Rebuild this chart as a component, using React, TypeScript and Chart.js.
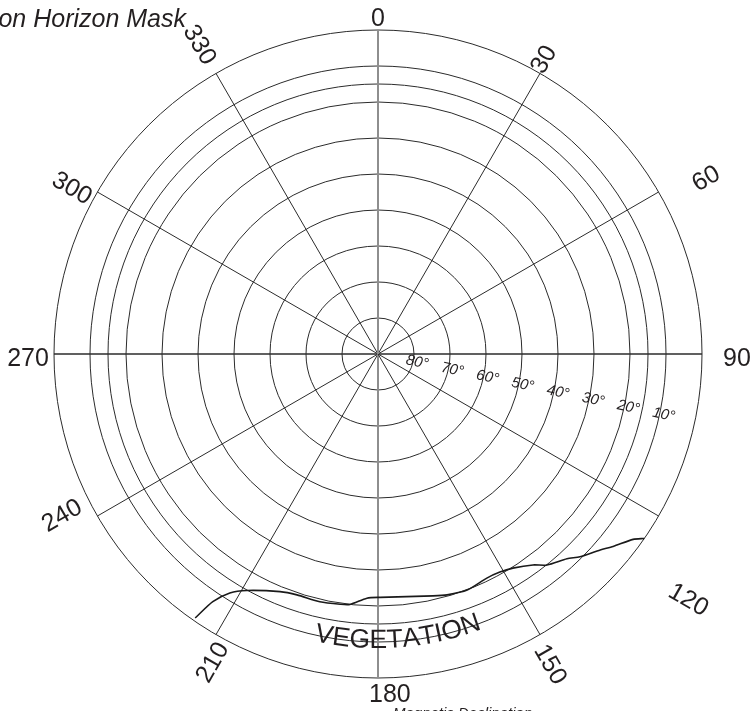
import React, { useEffect, useRef } from 'react';
import { Chart, registerables } from 'chart.js';

Chart.register(...registerables);

// ---- data ----
const azimuthValues = [0, 30, 60, 90, 120, 150, 180, 210, 240, 270, 300, 330];
const azimuthLabels = ['0', '30', '60', '90', '120', '150', '180', '210', '240', '270', '300', '330'];
const ringElevations = [90, 80, 70, 60, 50, 40, 30, 20, 15, 10, 0];
const elevationLabelValues = [80, 70, 60, 50, 40, 30, 20, 10];
const elevationLabels = ['80°', '70°', '60°', '50°', '40°', '30°', '20°', '10°'];
const maskAzimuth = [124.7, 126.0, 129.3, 131.4, 135.1, 137.3, 141.3, 143.7, 147.8, 150.8, 154.1, 159.3, 164.0, 167.2, 179.5, 182.6, 186.4, 188.6, 193.2, 198.6, 202.4, 209.0, 211.8, 213.7, 214.7];
const maskElevation = [0, 2.4, 5.6, 7.7, 10.5, 12.6, 14.9, 17.3, 19.7, 20.6, 20.8, 19.9, 20.4, 21.1, 22.4, 22.1, 20.0, 19.7, 19.3, 19.4, 18.6, 14.9, 11.9, 7.3, 0.8];
const titleText = 'Obstruction Horizon Mask';
const obstructionText = 'VEGETATION';
const footnoteText = 'Magnetic Declination';

// ---- layout of the hand-placed azimuth labels (offset beyond the rim, direction in degrees) ----
const azLabelGap = [11.5, 14, 48, 35, 72, 31, 16, 26, 31, 26, 24, 33];
const azLabelDir = [0, 29.3, 61.8, 90.6, 128.3, 150.9, 178, 208.3, 243, 269.3, 298.5, 330.1];

const FONT = '"Liberation Sans", Arial, Helvetica, sans-serif';
const DEG = Math.PI / 180;

// polar (azimuth, elevation) -> cartesian data units (zenith = 0, horizon = 90)
const maskPoints = maskAzimuth.map((az, i) => ({
  x: (90 - maskElevation[i]) * Math.sin(az * DEG),
  y: (90 - maskElevation[i]) * Math.cos(az * DEG),
}));

const labelPlugin = {
  id: 'skyLabels',
  afterDraw(chart: any) {
    const r = chart.scales.r;
    const ctx: CanvasRenderingContext2D = chart.ctx;
    const cx = r.xCenter;
    const cy = r.yCenter;
    const R = r.drawingArea;
    ctx.save();

    // azimuth labels
    ctx.font = `25px ${FONT}`;
    ctx.fillStyle = '#231f20';
    ctx.textAlign = 'center';
    ctx.textBaseline = 'middle';
    azimuthValues.forEach((az, i) => {
      const text = azimuthLabels[i];
      const rot = az % 90 === 0 ? 0 : az < 180 ? az - 90 : az - 270;
      const d = R + azLabelGap[i];
      const dir = azLabelDir[i];
      const x = cx + d * Math.sin(dir * DEG);
      const y = cy - d * Math.cos(dir * DEG);
      ctx.save();
      ctx.translate(x, y);
      ctx.rotate(rot * DEG);
      ctx.fillText(text, 0, 1);
      ctx.restore();
    });

    // elevation labels
    ctx.font = `italic 15px ${FONT}`;
    const labAz = 102;
    elevationLabelValues.forEach((el, i) => {
      const d = r.getDistanceFromCenterForValue(el) + 4;
      const x = cx + d * Math.sin(labAz * DEG);
      const y = cy - d * Math.cos(labAz * DEG);
      ctx.save();
      ctx.translate(x, y);
      ctx.rotate((labAz - 90) * DEG);
      ctx.fillText(elevationLabels[i], 0, 0);
      ctx.restore();
    });

    // curved obstruction text
    ctx.font = `26.5px ${FONT}`;
    ctx.textBaseline = 'alphabetic';
    const Rb = 294;
    const az0 = 176.3;
    const total = ctx.measureText(obstructionText).width;
    let s = -total / 2;
    for (const ch of obstructionText) {
      const cw = ctx.measureText(ch).width;
      const mid = s + cw / 2;
      const phi = az0 - (mid / Rb) / DEG;
      const x = cx + Rb * Math.sin(phi * DEG);
      const y = cy - Rb * Math.cos(phi * DEG);
      ctx.save();
      ctx.translate(x, y);
      ctx.rotate((phi - 180) * DEG);
      ctx.fillText(ch, 0, 0);
      ctx.restore();
      s += cw;
    }

    // title (partly clipped at the left edge, as in the original)
    ctx.font = `italic 25px ${FONT}`;
    ctx.textAlign = 'right';
    ctx.fillText(titleText, 186, 27);

    // footnote (mostly below the visible area)
    ctx.font = `italic 15px ${FONT}`;
    ctx.textAlign = 'left';
    ctx.textBaseline = 'top';
    ctx.fillText(footnoteText, 393, 706);

    ctx.restore();
  },
};

export default function App() {
  const ref = useRef<HTMLCanvasElement>(null);
  useEffect(() => {
    document.body.style.margin = '0';
    const canvas = ref.current;
    if (!canvas) return;
    const chart = new Chart(canvas, {
      type: 'scatter',
      data: {
        labels: azimuthLabels,
        datasets: [
          {
            label: 'Horizon mask',
            data: maskPoints,
            showLine: true,
            borderColor: '#1a1a1a',
            borderWidth: 1.6,
            pointRadius: 0,
            tension: 0.25,
            fill: false,
          },
        ],
      },
      options: {
        responsive: false,
        animation: false,
        devicePixelRatio: 1,
        layout: { padding: { left: 54, right: 50, top: 30, bottom: 33 } },
        plugins: {
          legend: { display: false },
          tooltip: { enabled: false },
          title: { display: false },
        },
        scales: {
          x: { type: 'linear', min: -90, max: 90, display: false },
          y: { type: 'linear', min: -90, max: 90, display: false },
          r: {
            type: 'radialLinear',
            min: 0,
            max: 90,
            reverse: true,
            startAngle: 0,
            afterBuildTicks: (scale: any) => {
              scale.ticks = ringElevations.map((v) => ({ value: v }));
            },
            ticks: { display: false },
            pointLabels: { display: false },
            grid: { circular: true, color: '#2b2b2b', lineWidth: 1 },
            angleLines: {
              display: true,
              color: (c: any) => (c.index === 0 || c.index === 6 ? '#8e8e8e' : '#2b2b2b'),
              lineWidth: (c: any) => (c.index === 0 || c.index === 6 ? 2 : c.index % 3 === 0 ? 1.4 : 1),
            },
          } as any,
        },
      } as any,
      plugins: [labelPlugin],
    });
    return () => chart.destroy();
  }, []);
  return (
    <div style={{ width: 752, height: 711 }}>
      <canvas ref={ref} width={752} height={711} style={{ display: 'block' }} />
    </div>
  );
}
